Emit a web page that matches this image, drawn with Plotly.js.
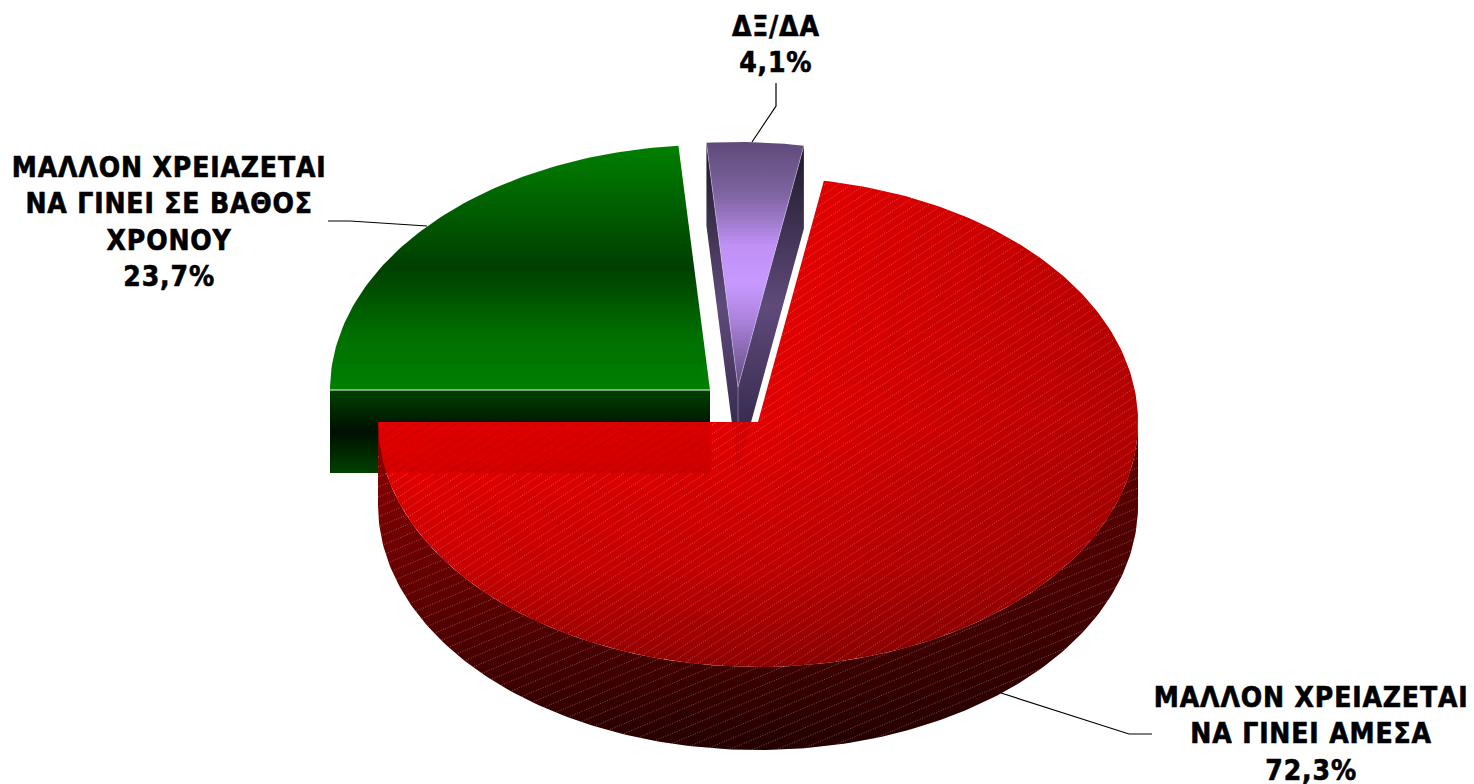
<!DOCTYPE html>
<html>
<head>
<meta charset="utf-8">
<script src="https://cdn.plot.ly/plotly-3.0.1.min.js"></script>
<style>
html,body{margin:0;padding:0;background:#fff;overflow:hidden}
#chart{width:1474px;height:784px}
#chart .annotation-text{letter-spacing:0.85px;stroke:#000;stroke-width:0.6px}
</style>
</head>
<body>
<div id="chart"></div>
<script>
// ---- data ----
const categories = ["ΜΑΛΛΟΝ ΧΡΕΙΑΖΕΤΑΙ<br>ΝΑ ΓΙΝΕΙ ΣΕ ΒΑΘΟΣ<br>ΧΡΟΝΟΥ", "ΔΞ/ΔΑ", "ΜΑΛΛΟΝ ΧΡΕΙΑΖΕΤΑΙ<br>ΝΑ ΓΙΝΕΙ ΑΜΕΣΑ"];
const values = [23.7, 4.1, 72.3];

// ---- projection of the tilted pie onto the page ----
const firstAngle = 270, rx = 380, ry = 245, depth = 83;
const apexes = [[710, 390], [738, 387], [758, 422]];
const labelPos = [[169, 222], [776, 44], [1311, 734]];
const leaders = [
  [[427, 226], [350, 221], [328, 221]],
  [[752, 142], [776, 106], [776, 83]],
  [[1001, 693], [1129, 734], [1152, 734]]
];

const total = values.reduce((a, b) => a + b, 0);
const rad = d => d * Math.PI / 180;
let acc = firstAngle;
const sweeps = values.map(v => { const a0 = acc; acc += v / total * 360; return [a0, acc]; });
const pt = (c, t, dy = 0) => [c[0] + rx * Math.sin(rad(t)), c[1] - ry * Math.cos(rad(t)) + dy];
function arc(c, t0, t1, dy = 0) {
  const n = Math.max(2, Math.ceil(Math.abs(t1 - t0) / 1)), out = [];
  for (let i = 0; i <= n; i++) out.push(pt(c, t0 + (t1 - t0) * i / n, dy));
  return out;
}
const traces = [];
function poly(points, extra) {
  traces.push(Object.assign({
    type: 'scatter', mode: 'lines', x: points.map(p => p[0]), y: points.map(p => p[1]),
    fill: 'toself', line: {width: 0, color: 'rgba(0,0,0,0)'}, hoverinfo: 'skip', showlegend: false
  }, extra));
}
function vgrad(stops, start, stop) { return {fillgradient: {type: 'vertical', start, stop, colorscale: stops}}; }
function hgrad(stops, start, stop) { return {fillgradient: {type: 'horizontal', start, stop, colorscale: stops}}; }
function polyline(points, color, width, dash) {
  traces.push({type: 'scatter', mode: 'lines', x: points.map(p => p[0]), y: points.map(p => p[1]),
    line: {color, width, dash: dash || 'solid', simplify: false}, hoverinfo: 'skip', showlegend: false, connectgaps: false});
}

// ---- green slice ----
const [gA, pA, rA] = apexes;
const gLeft = pt(gA, sweeps[0][0]);
poly([[gLeft[0], gA[1]], [gA[0], gA[1]], [gA[0], gA[1] + depth], [gLeft[0], gA[1] + depth]],
  vgrad([[0, '#004200'], [0.5, '#001000'], [1, '#004000']], gA[1], gA[1] + depth));
poly([gA].concat(arc(gA, sweeps[0][0], sweeps[0][1])),
  vgrad([[0, '#008000'], [0.5, '#003f00'], [0.78, '#007000'], [1, '#008000']], gA[1] - ry, gA[1]));
polyline([[gLeft[0], gA[1]], [gA[0], gA[1]]], '#f4f8f4', 1);

// ---- purple slice ----
const pL = pt(pA, sweeps[1][0]), pR = pt(pA, sweeps[1][1]);
const pSide = [[0, '#1c1826'], [0.5, '#5f4a7a'], [1, '#2a2040']];
poly([pL, [pL[0], pL[1] + depth], [pA[0], pA[1] + depth], pA], vgrad(pSide, pA[1] - ry, pA[1] + depth));
poly([pR, [pR[0], pR[1] + depth], [pA[0], pA[1] + depth], pA], vgrad(pSide, pA[1] - ry, pA[1] + depth));
poly([pA].concat(arc(pA, sweeps[1][0], sweeps[1][1])),
  vgrad([[0, '#5f4a7a'], [0.22, '#7f65a2'], [0.42, '#c090f5'], [0.58, '#c799ff'], [0.74, '#a880d8'], [1, '#5f4a7a']], pA[1] - ry, pA[1]));
polyline([pL, pA, pR], 'rgba(215,205,235,0.45)', 1);
polyline([pA, [pA[0], pA[1] + depth]], 'rgba(215,205,235,0.4)', 1);

// ---- red slice ----
const rSide = arc(rA, 90, 270).concat(arc(rA, 270, 90, depth));
poly(rSide, vgrad([[0, '#900000'], [0.5, '#640000'], [1, '#2a0000']], rA[1], rA[1] + ry + depth));
poly(rSide, hgrad([[0, 'rgba(0,0,0,0)'], [1, 'rgba(0,0,0,0.3)']], rA[0] - rx, rA[0] + rx));
const rTop = [rA].concat(arc(rA, sweeps[2][0], sweeps[2][1]));
poly(rTop, vgrad([[0, '#f60000'], [0.5, '#ee0000'], [0.8, '#ca0000'], [1, '#960000']], rA[1] - ry, rA[1] + ry));
poly(rTop, hgrad([[0, 'rgba(0,0,0,0)'], [0.5, 'rgba(0,0,0,0.05)'], [0.7, 'rgba(0,0,0,0.13)'], [1, 'rgba(0,0,0,0.25)']], rA[0] - rx, rA[0] + rx));

// the red sheet is slightly see-through where it covers the green and purple side faces
const gBottom = gA[1] + depth, gRight = gA[0];
const overlapArc = [];
for (let y = rA[1]; y <= gBottom; y += 2) {
  const k = (y - rA[1]) / ry;
  overlapArc.push([rA[0] - rx * Math.sqrt(1 - k * k), y]);
}
const overlap = overlapArc.concat([[gRight, gBottom], [gRight, rA[1]]]);
poly(overlap, {fillcolor: 'rgba(0,0,0,0.045)'});
const pY = rA[1];
const pF = (pY - (pL[1] + depth)) / (pA[1] + depth - (pL[1] + depth));
const pG = (pY - (pR[1] + depth)) / (pA[1] + depth - (pR[1] + depth));
poly([[pL[0] + (pA[0] - pL[0]) * pF, pY], [pR[0] + (pA[0] - pR[0]) * pG, pY], [pA[0], pA[1] + depth]],
  {fillcolor: 'rgba(40,0,60,0.06)'});

// ---- hatch texture on the red slice ----
function inTop(x, y) {
  const dx = (x - rA[0]) / rx, dy = (y - rA[1]) / ry;
  if (dx * dx + dy * dy > 1) return false;
  let t = Math.atan2(dx, -dy) * 180 / Math.PI; if (t < 0) t += 360;
  if (t >= 270) return false;
  return t >= (sweeps[2][0] - 360);
}
function inSide(x, y) {
  const dx = (x - rA[0]) / rx;
  if (Math.abs(dx) > 1 || y < rA[1]) return false;
  const e = ry * Math.sqrt(1 - dx * dx);
  return y > rA[1] + e && y <= rA[1] + e + depth;
}
function inOverlap(x, y) { return y >= rA[1] && y <= gBottom && x <= gRight && inTop(x, y); }
function hatch(test, slope, gap, color) {
  const xs = [], ys = [];
  const minC = rA[1] - ry - 10, maxC = rA[1] + ry + depth + slope * 2 * rx + 10;
  for (let c = minC; c < maxC; c += gap) {
    let on = false;
    for (let x = rA[0] - rx; x <= rA[0] + rx; x += 2) {
      const y = c - slope * (x - (rA[0] - rx));
      if (test(x, y)) { xs.push(x); ys.push(y); on = true; }
      else if (on) { xs.push(null); ys.push(null); on = false; }
    }
    if (on) { xs.push(null); ys.push(null); }
  }
  traces.push({type: 'scatter', mode: 'lines', x: xs, y: ys, connectgaps: false,
    line: {color, width: 1, dash: '1px,1.5px', simplify: false}, hoverinfo: 'skip', showlegend: false});
}
hatch((x, y) => inTop(x, y) && !inOverlap(x, y), 0.65, 8.8, 'rgba(255,215,215,0.36)');
hatch(inOverlap, 0.65, 8.8, 'rgba(60,0,0,0.32)');
hatch(inSide, 0.42, 10, 'rgba(255,215,215,0.36)');

// ---- leader lines ----
leaders.forEach(l => polyline(l, '#000000', 1.2));

// ---- labels ----
const annotations = categories.map((c, i) => ({
  x: labelPos[i][0], y: labelPos[i][1], xref: 'x', yref: 'y', xanchor: 'center', yanchor: 'middle',
  showarrow: false, align: 'center',
  text: '<b>' + c + '<br>' + values[i].toFixed(1).replace('.', ',') + '%</b>',
  font: {family: '"DejaVu Sans Condensed", "DejaVu Sans", sans-serif', size: 28, color: '#000'}
}));

Plotly.newPlot('chart', traces, {
  width: 1474, height: 784, margin: {l: 0, r: 0, t: 0, b: 0},
  paper_bgcolor: '#fff', plot_bgcolor: '#fff', showlegend: false,
  xaxis: {range: [0, 1474], visible: false, fixedrange: true},
  yaxis: {range: [784, 0], visible: false, fixedrange: true},
  annotations
}, {displayModeBar: false, staticPlot: true});
</script>
</body>
</html>
